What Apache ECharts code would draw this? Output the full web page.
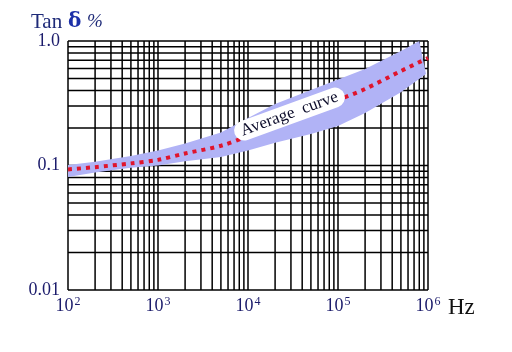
<!DOCTYPE html>
<html>
<head>
<meta charset="utf-8">
<script src="https://cdn.jsdelivr.net/npm/echarts@6/dist/echarts.min.js"></script>
<style>
  html, body { margin: 0; background: #fff; }
  #main { width: 512px; height: 352px; }
</style>
</head>
<body>
<div id="main"></div>
<script>
// frequency (Hz) where the band edges / average curve were read
var bandFreq = [100, 200, 500, 1e3, 2e3, 5e3, 1e4, 2e4, 5e4, 1e5, 2e5, 5e5];
var upperVal = [0.101, 0.107, 0.119, 0.132, 0.150, 0.184, 0.241, 0.312, 0.404, 0.491, 0.596, 0.831];
var lowerVal = [0.081, 0.088, 0.096, 0.100, 0.108, 0.117, 0.132, 0.152, 0.179, 0.208, 0.264, 0.387];
// right-hand end of the band
var upperEnd = [8e5, 1.0];
var lowerEnd = [9.5e5, 0.543];

var avgFreq = [100, 200, 500, 1e3, 2e3, 5e3, 1e4, 2e4, 5e4, 1e5, 2e5, 5e5, 1e6];
var avgVal = [0.093, 0.097, 0.104, 0.111, 0.125, 0.144, 0.173, 0.219, 0.279, 0.336, 0.412, 0.574, 0.730];

var labelPos = [28900, 0.259];
var labelText = 'Average  curve';

// log grid: decades x mantissa
var xDecades = [100, 1000, 1e4, 1e5];
var yDecades = [0.01, 0.1];
var mantissa = [1, 2, 3, 4, 5, 6, 7, 8, 9];
var gridX = [], gridY = [];
xDecades.forEach(function (d) { mantissa.forEach(function (m) { gridX.push([d * m, 0.01]); }); });
gridX.push([1e6, 0.01]);
yDecades.forEach(function (d) { mantissa.forEach(function (m) { gridY.push([100, d * m]); }); });
gridY.push([100, 1]);

var navy = '#1b1b6b';
var serif = 'Liberation Serif';

var chart = echarts.init(document.getElementById('main'));

var upperPts = bandFreq.map(function (f, i) { return [f, upperVal[i]]; }).concat([upperEnd]);
var lowerPts = bandFreq.map(function (f, i) { return [f, lowerVal[i]]; }).concat([lowerEnd]);
var avgData = avgFreq.map(function (f, i) { return [f, avgVal[i]]; });

var option = {
  animation: false,
  grid: { left: 68, top: 41, right: 84, bottom: 62 },
  xAxis: {
    type: 'log', logBase: 10, min: 100, max: 1e6, splitNumber: 4,
    axisLine: { show: false }, axisTick: { show: false }, splitLine: { show: false },
    axisLabel: {
      margin: 6,
      formatter: function (v) {
        return '{b|10}{s|' + Math.round(Math.log10(v)) + '}';
      },
      rich: {
        b: { fontSize: 18, fontFamily: serif, color: navy },
        s: { fontSize: 12, fontFamily: serif, color: navy, padding: [0, 0, 9, 1] }
      }
    }
  },
  yAxis: {
    type: 'log', logBase: 10, min: 0.01, max: 1, splitNumber: 2,
    axisLine: { show: false }, axisTick: { show: false }, splitLine: { show: false },
    axisLabel: {
      margin: 8, fontSize: 18, fontFamily: serif, color: navy,
      formatter: function (v) {
        var e = Math.round(Math.log10(v));
        return e === 0 ? '1.0' : e === -1 ? '0.1' : '0.01';
      }
    }
  },
  graphic: [
    { type: 'text', x: 31, y: 22, style: { text: 'Tan', font: '21px ' + serif, fill: '#1e2a78', verticalAlign: 'middle' } },
    { type: 'text', x: 68, y: 22, style: { text: 'δ', font: 'bold 20px DejaVu Serif', fill: '#1c30a8', verticalAlign: 'middle' } },
    { type: 'text', x: 87, y: 22, style: { text: '%', font: 'italic 19px ' + serif, fill: '#1e2a78', verticalAlign: 'middle' } },
    { type: 'text', x: 448, y: 308, style: { text: 'Hz', font: '23px ' + serif, fill: '#111', verticalAlign: 'middle' } }
  ],
  series: [
    {
      type: 'custom', name: 'vgrid', data: gridX, z: 1, silent: true,
      renderItem: function (params, api) {
        var a = api.coord([api.value(0), 0.01]);
        var b = api.coord([api.value(0), 1]);
        return { type: 'line', shape: { x1: a[0], y1: a[1], x2: b[0], y2: b[1] },
          style: { stroke: '#000', lineWidth: 1.5 } };
      }
    },
    {
      type: 'custom', name: 'hgrid', data: gridY, z: 1, silent: true,
      renderItem: function (params, api) {
        var a = api.coord([100, api.value(1)]);
        var b = api.coord([1e6, api.value(1)]);
        return { type: 'line', shape: { x1: a[0], y1: a[1], x2: b[0], y2: b[1] },
          style: { stroke: '#000', lineWidth: 1.5 } };
      }
    },
    {
      type: 'custom', name: 'band', data: [[100, 0.1]], z: 2, silent: true,
      renderItem: function (params, api) {
        var pts = upperPts.map(function (p) { return api.coord(p); })
          .concat(lowerPts.slice().reverse().map(function (p) { return api.coord(p); }));
        return { type: 'polygon', shape: { points: pts }, style: { fill: '#b1b3f6' } };
      }
    },
    {
      type: 'line', name: 'Average curve', data: avgData, z: 3,
      smooth: 0.3, showSymbol: false, silent: true,
      lineStyle: { color: '#e0142c', width: 4, type: [4, 5], cap: 'butt' }
    },
    {
      type: 'custom', name: 'label', data: [labelPos], z: 4, silent: true,
      renderItem: function (params, api) {
        var c = api.coord([api.value(0), api.value(1)]);
        return {
          type: 'text', x: c[0], y: c[1], rotation: 20 * Math.PI / 180,
          style: {
            text: labelText, font: '17px ' + serif, fill: '#0c0c2a',
            align: 'center', verticalAlign: 'middle',
            backgroundColor: '#fff', borderRadius: 11, padding: [2, 7, 1, 7]
          }
        };
      }
    }
  ]
};

chart.setOption(option);
</script>
</body>
</html>
